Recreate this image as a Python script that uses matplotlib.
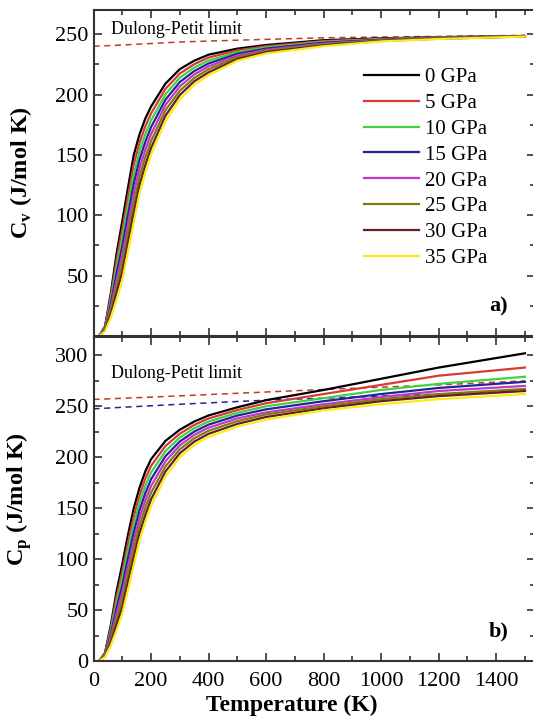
import matplotlib
matplotlib.use("Agg")
import matplotlib.pyplot as plt
from matplotlib.ticker import MultipleLocator

plt.rcParams['font.family'] = ['Liberation Serif', 'DejaVu Serif']
plt.rcParams['mathtext.fontset'] = 'custom'
plt.rcParams['mathtext.rm'] = 'Liberation Serif'
plt.rcParams['mathtext.bf'] = 'Liberation Serif:bold'

pressures = ["0 GPa", "5 GPa", "10 GPa", "15 GPa", "20 GPa", "25 GPa", "30 GPa", "35 GPa"]
colors = ["#000000", "#d83a3a", "#3fd23f", "#23239a", "#c437c8", "#7d7d10", "#6a1e1e", "#f5ee1a"]

temperature = [20, 40, 60, 80, 100, 120, 140, 160, 180, 200, 250, 300, 350, 400, 500, 600, 800, 1000, 1200, 1500]

# heat capacity at constant volume (J/mol K), read off panel a)
cv_0 = [0, 8.0, 35.0, 68.0, 95, 123.0, 150, 167, 180.0, 190.0, 209.0, 221.0, 228.0, 233.0, 238.0, 241, 245.0, 246.5, 247.5, 248.5]
cv_5 = [0, 7.4, 32.1, 62.6, 88, 115.4, 142, 160, 173.6, 184.3, 204.6, 217.4, 225.1, 230.6, 236.6, 240, 244.3, 246.1, 247.3, 248.4]
cv_10 = [0, 6.9, 29.3, 57.1, 81, 107.9, 134, 153, 167.1, 178.6, 200.1, 213.9, 222.3, 228.1, 235.1, 239, 243.6, 245.8, 247.1, 248.4]
cv_15 = [0, 6.3, 26.4, 51.7, 74, 100.3, 126, 146, 160.7, 172.9, 195.7, 210.3, 219.4, 225.7, 233.7, 238, 242.9, 245.4, 246.9, 248.3]
cv_20 = [0, 5.7, 23.6, 46.3, 67, 92.7, 118, 139, 154.3, 167.1, 191.3, 206.7, 216.6, 223.3, 232.3, 237, 242.1, 245.1, 246.6, 248.2]
cv_25 = [0, 5.1, 20.7, 40.9, 60, 85.1, 110, 132, 147.9, 161.4, 186.9, 203.1, 213.7, 220.9, 230.9, 236, 241.4, 244.7, 246.4, 248.1]
cv_30 = [0, 4.6, 17.9, 35.4, 53, 77.6, 102, 125, 141.4, 155.7, 182.4, 199.6, 210.9, 218.4, 229.4, 235, 240.7, 244.4, 246.2, 248.1]
cv_35 = [0, 4.0, 15.0, 30.0, 46, 70.0, 94, 118, 135.0, 150.0, 178.0, 196.0, 208.0, 216.0, 228.0, 234, 240.0, 244.0, 246.0, 248.0]

# heat capacity at constant pressure (J/mol K), read off panel b)
cp_0 = [0, 8.0, 35.0, 68.0, 95, 124.0, 150, 170.0, 186.0, 198.0, 216, 227.0, 235.0, 241, 249.0, 256.0, 266, 277, 288, 302]
cp_5 = [0, 7.4, 32.1, 62.6, 88, 116.3, 142, 162.6, 178.9, 191.4, 211, 223.1, 231.7, 238, 246.3, 253.0, 262, 271, 280, 288]
cp_10 = [0, 6.9, 29.3, 57.1, 81, 108.6, 134, 155.1, 171.7, 184.9, 206, 219.3, 228.4, 235, 243.6, 250.0, 258, 266, 272, 279]
cp_15 = [0, 6.3, 26.4, 51.7, 74, 100.9, 126, 147.7, 164.6, 178.3, 201, 215.4, 225.1, 232, 240.9, 247.0, 255, 262, 268, 274]
cp_20 = [0, 5.7, 23.6, 46.3, 67, 93.1, 118, 140.3, 157.4, 171.7, 196, 211.6, 221.9, 229, 238.1, 244.0, 252, 259, 265, 270]
cp_25 = [0, 5.1, 20.7, 40.9, 60, 85.4, 110, 132.9, 150.3, 165.1, 191, 207.7, 218.6, 226, 235.4, 242.0, 250, 257, 262, 267]
cp_30 = [0, 4.6, 17.9, 35.4, 53, 77.7, 102, 125.4, 143.1, 158.6, 186, 203.9, 215.3, 223, 232.7, 239.5, 248, 255, 260, 265]
cp_35 = [0, 4.0, 15.0, 30.0, 46, 70.0, 94, 118.0, 136.0, 152.0, 181, 200.0, 212.0, 220, 230.0, 237.0, 246, 252, 257, 262]

cv_all = [cv_0, cv_5, cv_10, cv_15, cv_20, cv_25, cv_30, cv_35]
cp_all = [cp_0, cp_5, cp_10, cp_15, cp_20, cp_25, cp_30, cp_35]

# dashed Dulong-Petit guide lines
dp_t_a = [0, 100, 300, 500, 800, 1500]
dp_cv = [240, 241, 243.5, 245, 247, 249]
dp_t_b = [0, 200, 400, 800, 1200, 1500]
dp_cp_red = [256.7, 259, 261.5, 266.5, 271, 275]
dp_t_b2 = [0, 300, 600, 1000, 1500]
dp_cp_blue = [247.5, 252, 256, 260, 265]

W, H = 533, 721
fig = plt.figure(figsize=(W / 100, H / 100), dpi=100)
left = 93.5 / W
right = 535 / W
ax1 = fig.add_axes([left, (H - 336) / H, right - left, 326 / H])
ax2 = fig.add_axes([left, (H - 661) / H, right - left, 324 / H])

for ax in (ax1, ax2):
    ax.set_xlim(0, 1535)
    ax.xaxis.set_major_locator(MultipleLocator(200))
    ax.xaxis.set_minor_locator(MultipleLocator(100))
    ax.yaxis.set_minor_locator(MultipleLocator(25))
    ax.tick_params(which='both', direction='in', top=True, right=True, labelsize=16, width=1.2, colors='#333333', labelcolor='black')
    ax.tick_params(which='major', length=6)
    ax.tick_params(which='minor', length=3.5)
    ax.tick_params(axis='x', pad=8)
    for s in ax.spines.values():
        s.set_linewidth(1.5)
        s.set_color('#333333')

# panel a)
ax1.plot(dp_t_a, dp_cv, ls=(0, (4, 3)), color='#c0392b', lw=1.1)
for vals, c, lab in zip(cv_all, colors, pressures):
    ax1.plot(temperature, vals, color=c, lw=1.6, label=lab)
ax1.set_ylim(0, 270)
ax1.set_yticks([50, 100, 150, 200, 250])
ax1.tick_params(labelbottom=False)
ax1.set_ylabel(r'C$_\mathregular{v}$ (J/mol K)', fontsize=17.5, fontweight='bold', labelpad=15)
ax1.text(0.04, 0.925, 'Dulong-Petit limit', transform=ax1.transAxes, fontsize=13)
ax1.text(0.939, 0.09, 'a)', transform=ax1.transAxes, fontsize=16, fontweight='bold', ha='right', va='center')
ax1.legend(loc='upper left', bbox_to_anchor=(0.59, 0.855), frameon=False, fontsize=15,
           handlelength=2.6, handletextpad=0.3, labelspacing=0.3, borderpad=0)

# panel b)
ax2.plot(dp_t_b, dp_cp_red, ls=(0, (4, 3)), color='#c0392b', lw=1.1)
ax2.plot(dp_t_b2, dp_cp_blue, ls=(0, (4, 3)), color='#23239a', lw=1.1)
for vals, c in zip(cp_all, colors):
    ax2.plot(temperature, vals, color=c, lw=1.6)
ax2.set_ylim(0, 318)
ax2.set_yticks([0, 50, 100, 150, 200, 250, 300])
ax2.set_ylabel(r'C$_\mathregular{p}$ (J/mol K)', fontsize=17.5, fontweight='bold', labelpad=15)
ax2.set_xlabel('Temperature (K)', fontsize=17, fontweight='bold')
ax2.xaxis.set_label_coords(0.45, -0.105)
ax2.text(0.04, 0.875, 'Dulong-Petit limit', transform=ax2.transAxes, fontsize=13)
ax2.text(0.939, 0.09, 'b)', transform=ax2.transAxes, fontsize=16, fontweight='bold', ha='right', va='center')

fig.savefig('out.png', dpi=100)
